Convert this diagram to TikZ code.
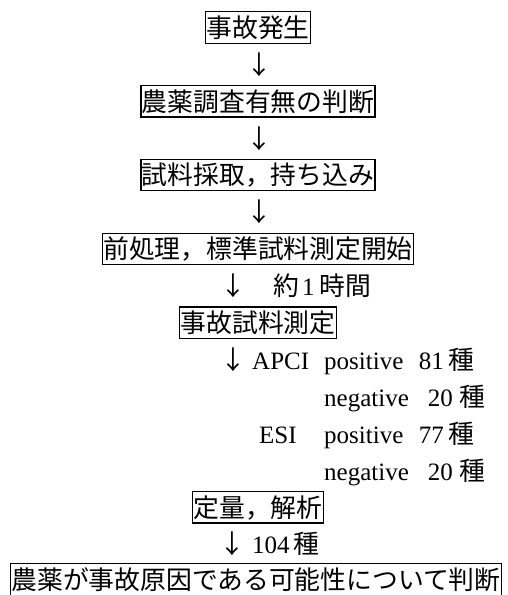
\documentclass[tikz,border=0pt]{standalone}
\usepackage{fontspec}
\setmainfont{Liberation Serif}
\newfontfamily\jp{Noto Sans CJK JP}
\begin{document}
\begin{tikzpicture}[x=1pt,y=-1pt,
  box/.style={draw,line width=1.3pt,inner xsep=1pt,inner ysep=2.8pt,text height=22.7pt,text depth=3.1pt,font=\jp\fontsize{25.8}{30}\selectfont},
  jtxt/.style={inner sep=0pt,anchor=base,font=\jp\fontsize{25.8}{30}\selectfont},
  jw/.style={jtxt,anchor=base west},
  ltxt/.style={inner sep=0pt,anchor=base west,font=\fontsize{25}{30}\selectfont},
  lte/.style={ltxt,anchor=base east},
]
\useasboundingbox (0,0) rectangle (508,595);
% boxes
\node[box] (b1) at (258,27.5) {事故発生};
\node[jtxt] (a1) at (259,74.2) {↓};
\node[box] (b2) at (258,101.3) {農薬調査有無の判断};
\node[jtxt] (a2) at (259,148) {↓};
\node[box] (b3) at (258,175.1) {試料採取，持ち込み};
\node[jtxt] (a3) at (259,221.8) {↓};
\node[box] (b4) at (258,248.9) {前処理，標準試料測定開始};
\node[jtxt] (a4) at (233,295.6) {↓};
\node[jw] (t4a) at (273,295.6) {約};
\node[ltxt] (t4b) at (302,295.6) {1};
\node[jw] (t4c) at (319,295.6) {時間};
\node[box] (b5) at (258,322.7) {事故試料測定};
% measurement list
\node[jtxt] (a5) at (233,369.4) {↓};
\node[ltxt] (m1a) at (252,369.4) {APCI};
\node[ltxt] (m1b) at (324,369.4) {positive};
\node[lte] (m1c) at (444,369.4) {81};
\node[jw] (m1d) at (448,369.4) {種};
\node[ltxt] (m2b) at (324,406.3) {negative};
\node[lte] (m2c) at (453,406.3) {20};
\node[jw] (m2d) at (459,406.3) {種};
\node[ltxt] (m3a) at (259,443.2) {ESI};
\node[ltxt] (m3b) at (324,443.2) {positive};
\node[lte] (m3c) at (444,443.2) {77};
\node[jw] (m3d) at (448,443.2) {種};
\node[ltxt] (m4b) at (324,480.1) {negative};
\node[lte] (m4c) at (453,480.1) {20};
\node[jw] (m4d) at (459,480.1) {種};
\node[box] (b6) at (258,507.2) {定量，解析};
\node[jtxt] (a6) at (232,553.9) {↓};
\node[ltxt] (t6a) at (252,553.9) {104};
\node[jw] (t6b) at (293,553.9) {種};
\node[box] (b7) at (256,579.5) {農薬が事故原因である可能性について判断};
\end{tikzpicture}
\end{document}
